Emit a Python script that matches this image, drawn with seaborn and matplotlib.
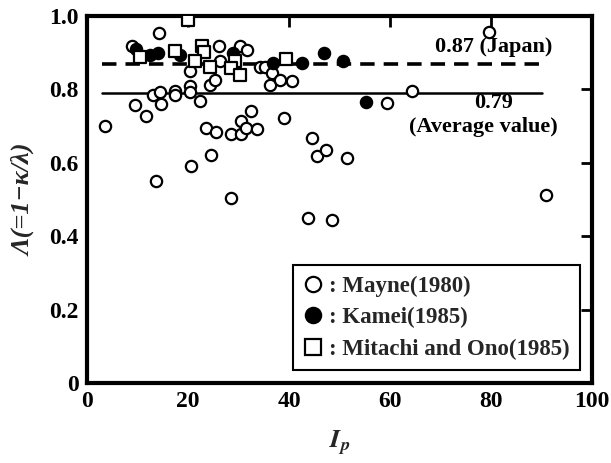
import matplotlib
matplotlib.use("Agg")
import matplotlib.pyplot as plt
import seaborn as sns
import pandas as pd
from matplotlib.lines import Line2D

# ---- data ----
mayne_ip = [3.6, 9.0, 9.5, 11.6, 13.1, 13.7, 14.3, 14.5, 14.7, 17.4, 17.4, 20.4, 20.4, 20.4,
            20.6, 22.4, 24.4, 25.3, 23.6, 24.6, 25.5, 26.2, 26.3, 28.6, 28.6, 30.3, 30.4, 30.5,
            31.5, 31.6, 32.5, 33.6, 34.3, 35.2, 36.6, 36.2, 38.2, 40.5, 39.1, 43.8, 44.5, 45.5,
            47.4, 48.6, 51.4, 59.3, 64.3, 79.5, 90.9]
mayne_L = [0.700, 0.917, 0.757, 0.727, 0.785, 0.550, 0.955, 0.794, 0.760, 0.796, 0.786, 0.808,
           0.794, 0.849, 0.590, 0.768, 0.812, 0.826, 0.696, 0.620, 0.683, 0.917, 0.877, 0.678,
           0.505, 0.917, 0.715, 0.678, 0.696, 0.907, 0.741, 0.692, 0.862, 0.862, 0.844, 0.812,
           0.826, 0.824, 0.721, 0.450, 0.667, 0.619, 0.636, 0.444, 0.614, 0.764, 0.796, 0.957,
           0.512]

kamei_ip = [9.7, 12.5, 14.1, 18.4, 29.0, 36.9, 42.5, 46.9, 50.6, 55.2]
kamei_L = [0.910, 0.894, 0.898, 0.894, 0.898, 0.871, 0.871, 0.898, 0.877, 0.767]

mitachi_ip = [10.5, 17.4, 20.0, 22.7, 23.2, 21.4, 24.4, 29.3, 28.6, 30.3, 39.4]
mitachi_L = [0.889, 0.905, 0.990, 0.917, 0.903, 0.877, 0.862, 0.877, 0.857, 0.839, 0.882]

japan_value = 0.87
average_value = 0.79
line_x = [3, 90]

legend_labels = [": Mayne(1980)", ": Kamei(1985)", ": Mitachi and Ono(1985)"]
x_ticks = [0, 20, 40, 60, 80, 100]
y_ticks = [0, 0.2, 0.4, 0.6, 0.8, 1.0]
y_tick_labels = ["0", "0.2", "0.4", "0.6", "0.8", "1.0"]

# ---- figure ----
sns.set_style("white")
plt.rcParams['font.family'] = ['Liberation Serif', 'DejaVu Serif']
plt.rcParams['font.weight'] = 'bold'
plt.rcParams['mathtext.fontset'] = 'stix'

fig = plt.figure(figsize=(6.11, 4.63), dpi=100)
ax = fig.add_axes([0.1424, 0.1728, 0.969 - 0.1424, 0.9654 - 0.1728])

df_m = pd.DataFrame({"Ip": mayne_ip, "L": mayne_L})
df_k = pd.DataFrame({"Ip": kamei_ip, "L": kamei_L})
df_s = pd.DataFrame({"Ip": mitachi_ip, "L": mitachi_L})

ms = 66
sns.scatterplot(data=df_m, x="Ip", y="L", ax=ax, marker="o", s=ms,
                facecolor="white", edgecolor="black", linewidth=1.6, zorder=3)
sns.scatterplot(data=df_k, x="Ip", y="L", ax=ax, marker="o", s=ms,
                facecolor="black", edgecolor="black", linewidth=1.6, zorder=4)
sns.scatterplot(data=df_s, x="Ip", y="L", ax=ax, marker="s", s=ms,
                facecolor="white", edgecolor="black", linewidth=1.6, zorder=5)

ax.plot(line_x, [japan_value] * 2, color="black", lw=2.6, ls=(0, (4, 2.5)), zorder=2)
ax.plot(line_x, [average_value] * 2, color="black", lw=1.8, zorder=2)

txt_kw = dict(ha="center", va="center", fontsize=16, fontweight="bold", color="black")
ax.text(80.5, 0.915, "0.87 (Japan)", **txt_kw)
ax.text(80.5, 0.764, "0.79", **txt_kw)
ax.text(78.5, 0.698, "(Average value)", **txt_kw)

ax.set_xlim(0, 100)
ax.set_ylim(0, 1.0)
ax.set_xticks(x_ticks)
ax.set_xticklabels([str(t) for t in x_ticks])
ax.set_yticks(y_ticks)
ax.set_yticklabels(y_tick_labels)
ax.tick_params(direction="in", length=8, width=2, top=True, right=True,
               labelsize=17, pad=6, colors="black")
for lab in ax.get_xticklabels() + ax.get_yticklabels():
    lab.set_fontweight("bold")
for sp in ax.spines.values():
    sp.set_visible(True)
    sp.set_linewidth(3)
    sp.set_color("black")

ax.set_xlabel(r"$\mathbf{\mathit{I}_{\mathit{p}}}$", fontsize=19, labelpad=12)
ax.set_ylabel("Λ(=1−κ/λ)", fontsize=19, fontstyle="italic", fontweight="bold", labelpad=10)

handles = [
    Line2D([], [], marker="o", ls="", markersize=11, markerfacecolor="white",
           markeredgecolor="black", markeredgewidth=1.6),
    Line2D([], [], marker="o", ls="", markersize=11, markerfacecolor="black",
           markeredgecolor="black", markeredgewidth=1.6),
    Line2D([], [], marker="s", ls="", markersize=11, markerfacecolor="white",
           markeredgecolor="black", markeredgewidth=1.6),
]
leg = ax.legend(handles, legend_labels, loc="lower right", bbox_to_anchor=(0.976, 0.035),
                frameon=True, fancybox=False, framealpha=1, edgecolor="black",
                prop={"family": "Liberation Serif", "size": 16.5, "weight": "bold"},
                handlelength=0.8, handletextpad=0.3, labelspacing=0.45,
                borderpad=0.45, borderaxespad=0)
leg.get_frame().set_linewidth(1.5)
leg.set_zorder(10)

fig.savefig("out.png", dpi=100)
